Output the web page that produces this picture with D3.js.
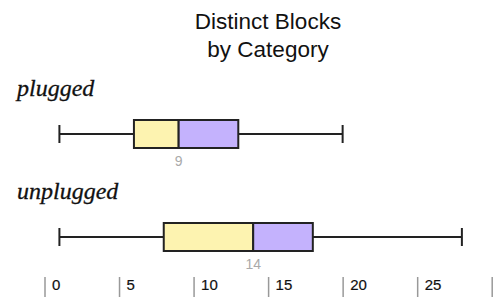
<!DOCTYPE html>
<html>
<head>
<meta charset="utf-8">
<script src="https://cdn.jsdelivr.net/npm/d3@7"></script>
<style>
  body { margin: 0; background: #fff; }
  svg { display: block; }
</style>
</head>
<body>
<svg id="chart" width="494" height="302"></svg>
<script>
var titleLines = ["Distinct Blocks", "by Category"];
var categories = ["plugged", "unplugged"];
var mins = [1, 1];
var q1s = [6, 8];
var medians = [9, 14];
var q3s = [13, 18];
var maxs = [20, 28];
var tickValues = [0, 5, 10, 15, 20, 25, 30];
var tickLabels = ["0", "5", "10", "15", "20", "25", ""];

var svg = d3.select("#chart");

var x = d3.scaleLinear().domain([0, 30]).range([44.5, 491.7]);
// label baseline and box centre for each row
var rowLabelY = d3.scaleOrdinal().domain(categories).range([96, 199]);
var rowBoxY = d3.scaleOrdinal().domain(categories).range([134, 237]);

svg.selectAll(".title")
  .data(titleLines)
  .enter().append("text")
  .attr("class", "title")
  .attr("x", 268)
  .attr("y", (d, i) => 28.5 + i * 28.5)
  .attr("text-anchor", "middle")
  .style("font-family", "'Liberation Sans', Arial, sans-serif")
  .style("font-size", "22.5px")
  .style("fill", "#111")
  .text(d => d);

var rows = categories.map((c, i) => ({
  name: c, min: mins[i], q1: q1s[i], med: medians[i], q3: q3s[i], max: maxs[i]
}));

var g = svg.selectAll(".row")
  .data(rows)
  .enter().append("g")
  .attr("class", "row");

g.append("text")
  .attr("x", 17)
  .attr("y", d => rowLabelY(d.name))
  .style("font-family", "'Liberation Serif', 'Times New Roman', serif")
  .style("font-style", "italic")
  .style("font-size", "24px")
  .style("fill", "#111")
  .style("stroke", "#111")
  .style("stroke-width", 0.3)
  .text(d => d.name);

// whisker line
g.append("line")
  .attr("x1", d => x(d.min))
  .attr("x2", d => x(d.max))
  .attr("y1", d => rowBoxY(d.name))
  .attr("y2", d => rowBoxY(d.name))
  .style("stroke", "#222")
  .style("stroke-width", 2);

// caps
["min", "max"].forEach(function (k) {
  g.append("line")
    .attr("x1", d => x(d[k]))
    .attr("x2", d => x(d[k]))
    .attr("y1", d => rowBoxY(d.name) - 9)
    .attr("y2", d => rowBoxY(d.name) + 9)
    .style("stroke", "#222")
    .style("stroke-width", 2);
});

g.append("rect")
  .attr("x", d => x(d.q1))
  .attr("y", d => rowBoxY(d.name) - 14)
  .attr("width", d => x(d.med) - x(d.q1))
  .attr("height", 28)
  .style("fill", "#fdf3b0")
  .style("stroke", "#222")
  .style("stroke-width", 2);

g.append("rect")
  .attr("x", d => x(d.med))
  .attr("y", d => rowBoxY(d.name) - 14)
  .attr("width", d => x(d.q3) - x(d.med))
  .attr("height", 28)
  .style("fill", "#c4b2fd")
  .style("stroke", "#222")
  .style("stroke-width", 2);

g.append("text")
  .attr("x", d => x(d.med))
  .attr("y", d => rowBoxY(d.name) + 32)
  .attr("text-anchor", "middle")
  .style("font-family", "'Liberation Sans', Arial, sans-serif")
  .style("font-size", "14px")
  .style("fill", "#aaa")
  .text(d => d.med);

var axis = d3.axisBottom(x)
  .tickValues(tickValues)
  .tickSize(20)
  .tickFormat((d, i) => tickLabels[i]);

var ax = svg.append("g")
  .attr("transform", "translate(0,277)")
  .call(axis);

ax.select(".domain").remove();
ax.selectAll(".tick line")
  .style("stroke", "#999")
  .style("stroke-width", 1.5);
ax.selectAll(".tick text")
  .attr("x", 7)
  .attr("y", 13)
  .attr("dy", 0)
  .attr("text-anchor", "start")
  .style("font-family", "'Liberation Sans', Arial, sans-serif")
  .style("font-size", "15px")
  .style("fill", "#111")
  .style("stroke", "#111")
  .style("stroke-width", 0.2);
</script>
</body>
</html>
